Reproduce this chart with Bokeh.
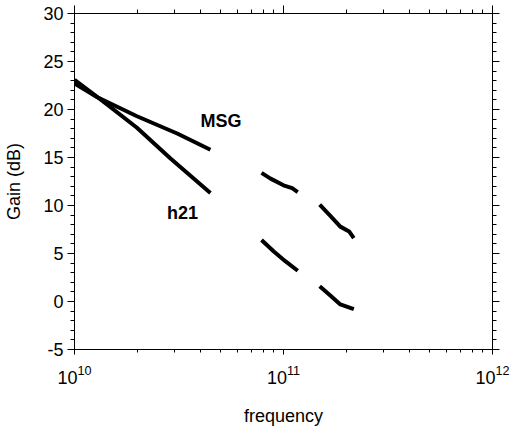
import math
from bokeh.plotting import figure
from bokeh.models import LogAxis, LinearAxis, FixedTicker, Range1d
from bokeh.core.properties import value
from bokeh.embed import file_html
from bokeh.resources import INLINE

# ---- data ----
msg_freq_1 = [1.0e10, 1.28e10, 1.99e10, 3.10e10, 4.47e10]
msg_gain_1 = [22.7, 21.3, 19.3, 17.5, 15.8]
msg_freq_2 = [7.85e10, 8.67e10, 1.00e11, 1.10e11, 1.17e11]
msg_gain_2 = [13.4, 12.8, 12.1, 11.8, 11.4]
msg_freq_3 = [1.49e11, 1.68e11, 1.87e11, 2.06e11, 2.17e11]
msg_gain_3 = [10.1, 8.9, 7.8, 7.3, 6.6]

h21_freq_1 = [1.0e10, 1.38e10, 1.99e10, 2.88e10, 4.47e10]
h21_gain_1 = [23.1, 20.8, 18.1, 14.9, 11.3]
h21_freq_2 = [7.85e10, 8.99e10, 1.02e11, 1.17e11]
h21_gain_2 = [6.4, 5.2, 4.2, 3.2]
h21_freq_3 = [1.49e11, 1.68e11, 1.87e11, 2.17e11]
h21_gain_3 = [1.6, 0.6, -0.3, -0.8]

label_text = ["MSG", "h21"]
label_freq = [4.01e10, 2.77e10]
label_gain = [18.8, 9.2]

x_major = [1e10, 1e11, 1e12]
x_minor = [m * d for d in [1e10, 1e11] for m in range(2, 10)]
y_major = list(range(-5, 31, 5))
y_minor = list(range(-5, 31, 1))
y_labels = {v: str(v) for v in y_major}

FONT = "Liberation Sans"

p = figure(width=511, height=428, x_axis_type="log",
           x_range=Range1d(1e10, 1e12), y_range=Range1d(-5, 30),
           output_backend="svg", toolbar_location=None,
           min_border_left=74, min_border_right=19,
           min_border_top=13, min_border_bottom=79)
p.outline_line_color = None
p.xgrid.grid_line_color = None
p.ygrid.grid_line_color = None
p.background_fill_color = "white"
p.border_fill_color = "white"

def style(ax, major_out, minor_out, labels=True):
    ax.axis_line_color = "black"
    ax.axis_line_width = 1
    ax.major_tick_line_color = "black"
    ax.minor_tick_line_color = "black"
    ax.major_tick_in = 0
    ax.minor_tick_in = 0
    ax.major_tick_out = major_out
    ax.minor_tick_out = minor_out
    ax.major_label_text_font = FONT
    ax.axis_label_text_font = FONT
    ax.axis_label_text_font_style = "normal"
    ax.axis_label_text_font_size = "18px"
    ax.axis_label_text_color = "black"
    if labels:
        ax.major_label_text_font_size = "18px"
        ax.major_label_text_color = "black"
    else:
        ax.major_label_text_font_size = "1px"
        ax.major_label_text_color = None
        ax.major_label_standoff = 0
        ax.axis_label_standoff = 0

xt = FixedTicker(ticks=x_major, minor_ticks=x_minor)
yt = FixedTicker(ticks=y_major, minor_ticks=y_minor)

bx = p.xaxis[0]
bx.ticker = xt
style(bx, 5, 3)
bx.major_label_standoff = 10
bx.axis_label = "frequency"
bx.axis_label_standoff = 19

ly = p.yaxis[0]
ly.ticker = yt
style(ly, 7, 4)
ly.major_label_standoff = 4
ly.major_label_overrides = y_labels
ly.axis_label = "Gain (dB)"
ly.axis_label_standoff = 16

top = LogAxis(ticker=FixedTicker(ticks=x_major, minor_ticks=x_minor))
style(top, 8, 4, labels=False)
p.add_layout(top, "above")

right = LinearAxis(ticker=FixedTicker(ticks=y_major, minor_ticks=y_minor))
style(right, 7, 4, labels=False)
p.add_layout(right, "right")

for fx, gy in [(msg_freq_1, msg_gain_1), (msg_freq_2, msg_gain_2), (msg_freq_3, msg_gain_3),
               (h21_freq_1, h21_gain_1), (h21_freq_2, h21_gain_2), (h21_freq_3, h21_gain_3)]:
    p.line(fx, gy, line_color="black", line_width=4, line_join="round")

p.text(x=label_freq, y=label_gain, text=label_text,
       text_font=value(FONT), text_font_size="18px", text_font_style="bold",
       text_color="black", text_align="left", text_baseline="alphabetic")

open("out.html", "w").write(file_html(p, INLINE))
